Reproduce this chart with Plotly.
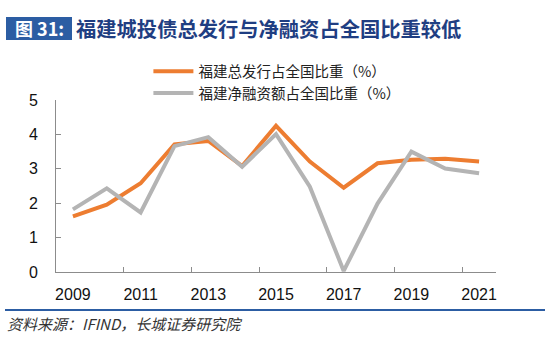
import plotly.graph_objects as go

years = list(range(2009, 2022))
issue_share = [1.62, 1.96, 2.58, 3.71, 3.81, 3.08, 4.25, 3.21, 2.45, 3.16, 3.26, 3.29, 3.21]
net_share = [1.82, 2.43, 1.73, 3.66, 3.92, 3.06, 4.01, 2.48, 0.03, 1.99, 3.50, 3.01, 2.87]
name_issue = "福建总发行占全国比重（%）"
name_net = "福建净融资额占全国比重（%）"
xtick_vals = [2009, 2011, 2013, 2015, 2017, 2019, 2021]
xtick_text = [str(v) for v in xtick_vals]
ytick_vals = [0, 1, 2, 3, 4, 5]

CJK = "Noto Sans CJK SC"
LAT = "Liberation Sans, Arial"

fig = go.Figure()
fig.add_trace(go.Scatter(x=years, y=issue_share, mode="lines", name=name_issue,
                         line=dict(color="#ED7D31", width=4)))
fig.add_trace(go.Scatter(x=years, y=net_share, mode="lines", name=name_net,
                         line=dict(color="#B4B4B4", width=4)))

W, H = 550, 337
L, R, T, B = 56, 54, 100, 65

fig.update_layout(
    width=W, height=H,
    margin=dict(l=L, r=R, t=T, b=B),
    paper_bgcolor="white", plot_bgcolor="white",
    showlegend=True,
    legend=dict(x=0.21, y=1.26, xanchor="left", yanchor="top",
                font=dict(family=CJK, size=14.5, color="#222"),
                bgcolor="rgba(0,0,0,0)", tracegroupgap=0, itemwidth=40),
    xaxis=dict(range=[2008.5, 2021.5], tickmode="array", tickvals=xtick_vals,
               ticktext=xtick_text, ticks="", showgrid=False, zeroline=False,
               showline=True, linecolor="#8C8C8C", linewidth=1,
               tickfont=dict(family=LAT, size=16, color="#111"), ticklabelstandoff=8,
               minor=dict(tickmode="array", tickvals=[2010.5, 2012.5, 2014.5, 2016.5, 2018.5, 2020.5],
                          ticks="inside", ticklen=5, tickcolor="#8C8C8C", showgrid=False)),
    yaxis=dict(range=[0, 5], tickmode="array", tickvals=ytick_vals, ticks="inside",
               ticklen=5, tickcolor="#8C8C8C", showgrid=False, zeroline=False,
               showline=True, linecolor="#8C8C8C", linewidth=1,
               tickfont=dict(family=LAT, size=16, color="#111"), ticklabelstandoff=14),
)

# title box and text
fig.add_shape(type="rect", xref="paper", yref="paper",
              x0=(6 - L) / (W - L - R), x1=(72 - L) / (W - L - R),
              y0=(H - B - 40) / (H - T - B), y1=(H - B - 17) / (H - T - B),
              fillcolor="#2C5DA3", line=dict(width=0), layer="above")
fig.add_annotation(xref="paper", yref="paper", x=(39 - L) / (W - L - R), y=(H - B - 28.5) / (H - T - B),
                   text="<b>图 31:</b>", showarrow=False, xanchor="center", yanchor="middle",
                   font=dict(family=CJK, size=18, color="white"))
fig.add_annotation(xref="paper", yref="paper", x=(74 - L) / (W - L - R), y=(H - B - 28.5) / (H - T - B),
                   text="<b>福建城投债总发行与净融资占全国比重较低</b>", showarrow=False,
                   xanchor="left", yanchor="middle",
                   font=dict(family=CJK, size=20.3, color="#1F3E82"))
# bottom rule and source
fig.add_shape(type="line", xref="paper", yref="paper",
              x0=(5 - L) / (W - L - R), x1=(545 - L) / (W - L - R),
              y0=(H - B - 310) / (H - T - B), y1=(H - B - 310) / (H - T - B),
              line=dict(color="#2C5DA3", width=2))
fig.add_annotation(xref="paper", yref="paper", x=(5 - L) / (W - L - R), y=(H - B - 323) / (H - T - B),
                   text="<i>资料来源：IFIND，长城证券研究院</i>", showarrow=False,
                   xanchor="left", yanchor="middle",
                   font=dict(family=CJK, size=15, color="#333"))

fig.write_html("out.html")
